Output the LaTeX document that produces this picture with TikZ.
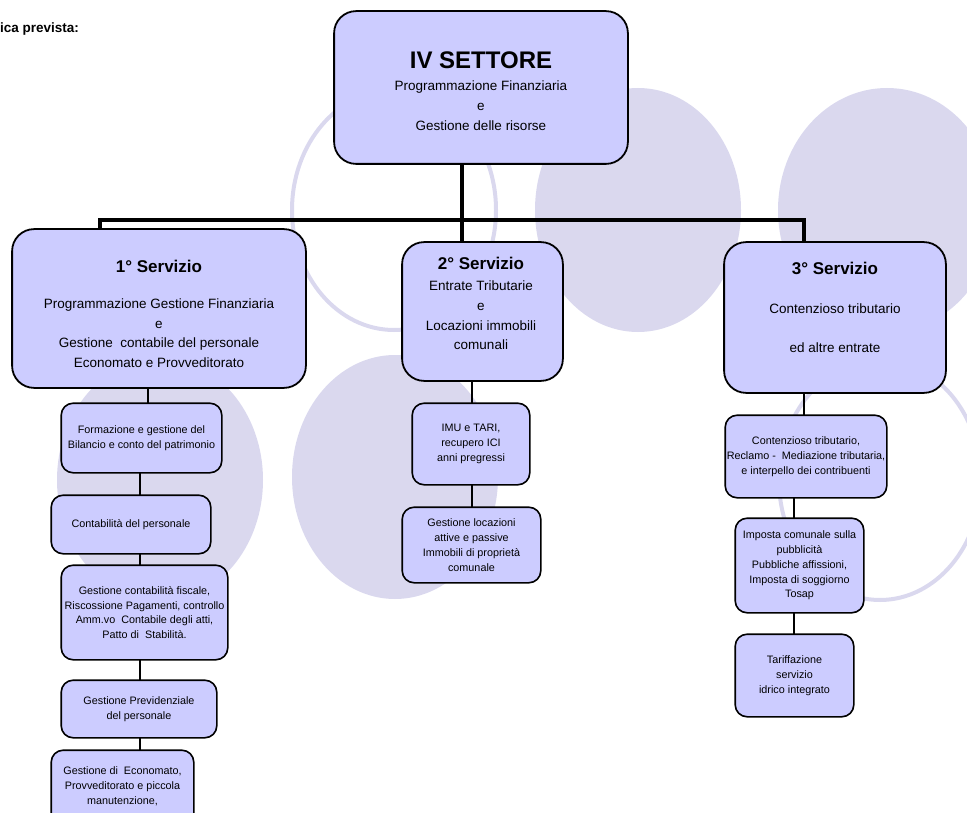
\documentclass[tikz,border=0pt]{standalone}
\usepackage{fontspec}
\setmainfont{Liberation Sans}
\definecolor{boxfill}{RGB}{204,204,255}
\definecolor{halo}{RGB}{218,216,238}
\tikzset{
  bigbox/.style={draw=black, line width=1.8pt, fill=boxfill, rounded corners=22pt, inner sep=0pt},
  smallbox/.style={draw=black, line width=1.6pt, fill=boxfill, rounded corners=12pt, inner sep=0pt,
    align=center, font=\fontsize{10.8}{14.8}\selectfont},
  smalltext/.style={inner sep=0pt, align=center, font=\fontsize{10.8}{14.8}\selectfont},
  head/.style={font=\bfseries\fontsize{17}{20}\selectfont, inner sep=0pt},
  body/.style={font=\fontsize{13.5}{19.6}\selectfont, align=center, inner sep=0pt},
  trunk/.style={line width=4.5pt, line join=miter},
  twig/.style={line width=2.6pt},
  disc/.style={fill=halo, draw=none},
  ring/.style={draw=halo, line width=4pt},
}
\begin{document}
\begin{tikzpicture}[x=1pt,y=-1pt]
\clip (0,0) rectangle (967,813);

% soft background circles
\draw[ring] (394,210) ellipse [x radius=102pt, y radius=120pt];
\fill[disc] (638,210) ellipse [x radius=103pt, y radius=122pt];
\fill[disc] (887,210) ellipse [x radius=109pt, y radius=122pt];
\fill[disc] (160,480) ellipse [x radius=103pt, y radius=122pt];
\fill[disc] (395,477) ellipse [x radius=103pt, y radius=122pt];
\draw[ring] (880,480) ellipse [x radius=101pt, y radius=120pt];

% heading fragment
\node[anchor=west, inner sep=0pt, font=\bfseries\fontsize{13.5}{16}\selectfont] (hdr) at (0,29) {ica prevista:};

% boxes (positions only, drawn later on top of the connectors)
\path
  (481,87.5)  node[bigbox, minimum width=292pt, minimum height=151pt] (top) {}
  (159,308.5) node[bigbox, minimum width=292pt, minimum height=157pt] (s1) {}
  (482.5,311.5) node[bigbox, minimum width=159pt, minimum height=137pt] (s2) {}
  (835,317.5) node[bigbox, minimum width=220pt, minimum height=149pt] (s3) {};

% junction points on the main bar and connector columns
\coordinate (jL) at (100,220);
\coordinate (jM) at (462,220);
\coordinate (jR) at (804,220);
\coordinate (k1) at (148,0);
\coordinate (k2) at (140,0);
\coordinate (m)  at (472,0);
\coordinate (n1) at (804,0);
\coordinate (n2) at (794,0);

% sub-unit boxes
\path
  (141.5,438) node[smallbox, minimum width=159pt, minimum height=68pt] (a1) {}
  (131,524.5) node[smallbox, minimum width=158pt, minimum height=57pt] (a2) {}
  (144.5,612.5) node[smallbox, minimum width=165pt, minimum height=93pt] (a3) {}
  (139,709) node[smallbox, minimum width=154pt, minimum height=56pt] (a4) {}
  (122.5,791) node[smallbox, minimum width=141pt, minimum height=80pt] (a5) {}
  (471,444) node[smallbox, minimum width=116pt, minimum height=80pt] (b1) {}
  (471.5,545) node[smallbox, minimum width=137pt, minimum height=74pt] (b2) {}
  (806,456.5) node[smallbox, minimum width=160pt, minimum height=81pt] (c1) {}
  (799.5,565.5) node[smallbox, minimum width=127pt, minimum height=93pt] (c2) {}
  (794.5,675.5) node[smallbox, minimum width=117pt, minimum height=81pt] (c3) {};

% connectors
\draw[trunk] (jM |- top.south) -- (jM |- s2.north);
\draw[trunk] (s1.north -| jL) -- (jL) -- (jR) -- (s3.north -| jR);
\draw[twig] (s1.south -| k1) -- (a1.north -| k1);
\draw[twig] (a1.south -| k2) -- (a2.north -| k2);
\draw[twig] (a2.south -| k2) -- (a3.north -| k2);
\draw[twig] (a3.south -| k2) -- (a4.north -| k2);
\draw[twig] (a4.south -| k2) -- (a5.north -| k2);
\draw[twig] (s2.south -| m) -- (b1.north -| m);
\draw[twig] (b1.south -| m) -- (b2.north -| m);
\draw[twig] (s3.south -| n1) -- (c1.north -| n1);
\draw[twig] (c1.south -| n2) -- (c2.north -| n2);
\draw[twig] (c2.south -| n2) -- (c3.north -| n2);

% box outlines over the connector ends
\foreach \b in {top,s1,s2,s3}{
  \draw[bigbox] (\b.south west) rectangle (\b.north east);
}
\foreach \b in {a1,a2,a3,a4,a5,b1,b2,c1,c2,c3}{
  \draw[smallbox] (\b.south west) rectangle (\b.north east);
}

% texts
\node[smalltext] (a1t) at (a1.center) {Formazione e gestione del\\Bilancio e conto del patrimonio};
\node[smalltext] (a2t) at (a2.center) {Contabilità del personale};
\node[smalltext] (a3t) at (a3.center) {Gestione contabilità fiscale,\\Riscossione Pagamenti, controllo\\Amm.vo\ \ Contabile degli atti,\\Patto di\ \ Stabilità.};
\node[smalltext] (a4t) at (a4.center) {Gestione Previdenziale\\del personale};
\node[smalltext] (a5t) at (122.5,786) {Gestione di\ \ Economato,\\Provveditorato e piccola\\manutenzione,};
\node[smalltext] (b1t) at (b1.center) {IMU e TARI,\\recupero ICI\\anni pregressi};
\node[smalltext] (b2t) at (b2.center) {Gestione locazioni\\attive e passive\\Immobili di proprietà\\comunale};
\node[smalltext] (c1t) at (c1.center) {Contenzioso tributario,\\Reclamo -\ \ Mediazione\ tributaria,\\e interpello dei contribuenti};
\node[smalltext] (c2t) at (c2.center) {Imposta comunale sulla\\pubblicità\\Pubbliche affissioni,\\Imposta di soggiorno\\Tosap};
\node[smalltext] (c3t) at (c3.center) {Tariffazione\\servizio\\idrico integrato};

\node[inner sep=0pt, font=\bfseries\fontsize{24}{28}\selectfont] (topt) at (481,60) {IV SETTORE};
\node[body, font=\fontsize{13.5}{20}\selectfont] (topb) at (481,106) {Programmazione Finanziaria\\e\\Gestione delle risorse};

\node[head] (s1h) at (159,266) {1° Servizio};
\node[body] (s1b) at (159,333) {Programmazione Gestione Finanziaria\\e\\Gestione\ \ contabile del personale\\Economato e Provveditorato};

\node[head] (s2h) at (481,263) {2° Servizio};
\node[body] (s2b) at (481,315.5) {Entrate Tributarie\\e\\Locazioni immobili\\comunali};

\node[head] (s3h) at (835,268) {3° Servizio};
\node[body] (s3b) at (835,328.5) {Contenzioso tributario\\[19.5pt]ed altre entrate};
\end{tikzpicture}
\end{document}
